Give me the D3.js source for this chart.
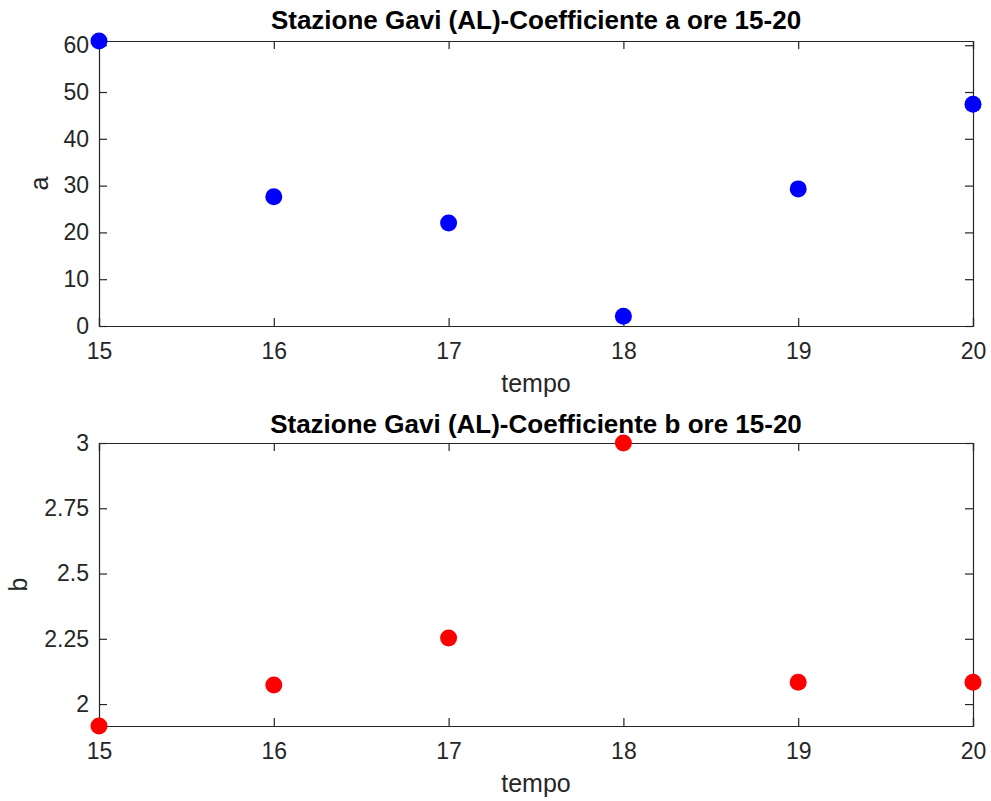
<!DOCTYPE html>
<html>
<head>
<meta charset="utf-8">
<script src="https://cdn.jsdelivr.net/npm/d3@7"></script>
<style>
  body { margin: 0; background: #fff; }
  text { font-family: "Liberation Sans", Arial, sans-serif; fill: #262626; }
  .title { font-weight: bold; fill: #000; }
</style>
</head>
<body>
<div id="chart"></div>
<script>
// data
const hours = [15, 16, 17, 18, 19, 20];
const aValues = [60.9, 27.6, 22.0, 2.1, 29.3, 47.4];
const bValues = [1.916, 2.073, 2.253, 3.0, 2.084, 2.084];
const aTicks = [0, 10, 20, 30, 40, 50, 60];
const bTicks = [2, 2.25, 2.5, 2.75, 3];

const svgWidth = 991;
const svgHeight = 801;

const svg = d3.select("#chart")
  .append("svg")
  .attr("width", svgWidth)
  .attr("height", svgHeight);

// one panel of the figure
function drawPanel(opts) {
  const x = d3.scaleLinear().domain([15, 20]).range([opts.left, opts.right]);
  const y = d3.scaleLinear().domain(opts.yDomain).range([opts.bottom, opts.top]);
  const tickLen = 8;
  const g = svg.append("g");

  // bottom axis, ticks inward
  const bottomAxis = d3.axisBottom(x).tickValues(hours).tickSize(-tickLen).tickPadding(17).tickFormat(d3.format("d"));
  const xAxis = g.append("g")
    .attr("transform", `translate(0, ${opts.bottom})`)
    .call(bottomAxis);

  const topAxis = d3.axisTop(x).tickValues(hours).tickSize(-tickLen).tickFormat("");
  g.append("g")
    .attr("transform", `translate(0, ${opts.top})`)
    .call(topAxis);

  const leftAxis = d3.axisLeft(y).tickValues(opts.yTicks).tickSize(-tickLen).tickPadding(10).tickFormat(opts.fmt);
  g.append("g")
    .attr("transform", `translate(${opts.left}, 0)`)
    .call(leftAxis);

  const rightAxis = d3.axisRight(y).tickValues(opts.yTicks).tickSize(-tickLen).tickFormat("");
  g.append("g")
    .attr("transform", `translate(${opts.right}, 0)`)
    .call(rightAxis);

  g.selectAll(".domain").attr("stroke", "#262626").attr("stroke-width", 1.2);
  g.selectAll(".tick line").attr("stroke", "#262626").attr("stroke-width", 1.2);
  g.selectAll(".tick text").style("font-size", "23px").attr("fill", "#262626");
  xAxis.selectAll(".tick text").attr("dy", "0.71em");

  // points
  g.selectAll("circle")
    .data(hours)
    .enter()
    .append("circle")
    .attr("cx", d => x(d))
    .attr("cy", (d, i) => y(opts.values[i]))
    .attr("r", 8.5)
    .attr("fill", opts.color);

  // labels
  g.append("text")
    .attr("class", "title")
    .attr("x", (opts.left + opts.right) / 2)
    .attr("y", opts.top - opts.titleGap)
    .attr("text-anchor", "middle")
    .style("font-size", "26px")
    .text(opts.title);

  g.append("text")
    .attr("x", (opts.left + opts.right) / 2)
    .attr("y", opts.bottom + 66)
    .attr("text-anchor", "middle")
    .style("font-size", "25px")
    .text("tempo");

  g.append("text")
    .attr("transform", "rotate(-90)")
    .attr("x", -(opts.top + opts.bottom) / 2)
    .attr("y", opts.labelX)
    .attr("text-anchor", "middle")
    .style("font-size", "25px")
    .text(opts.ylabel);
}

drawPanel({
  left: 99, right: 973, top: 41, bottom: 326,
  yDomain: [0, 60.9], yTicks: aTicks, fmt: d3.format("d"),
  values: aValues, color: "#0000ff",
  title: "Stazione Gavi (AL)-Coefficiente a ore 15-20",
  ylabel: "a", labelX: 48, titleGap: 12
});

drawPanel({
  left: 99, right: 973, top: 443, bottom: 726,
  yDomain: [1.916, 3], yTicks: bTicks, fmt: d => d3.format("")(d),
  values: bValues, color: "#ff0000",
  title: "Stazione Gavi (AL)-Coefficiente b ore 15-20",
  ylabel: "b", labelX: 27, titleGap: 10
});
</script>
</body>
</html>
